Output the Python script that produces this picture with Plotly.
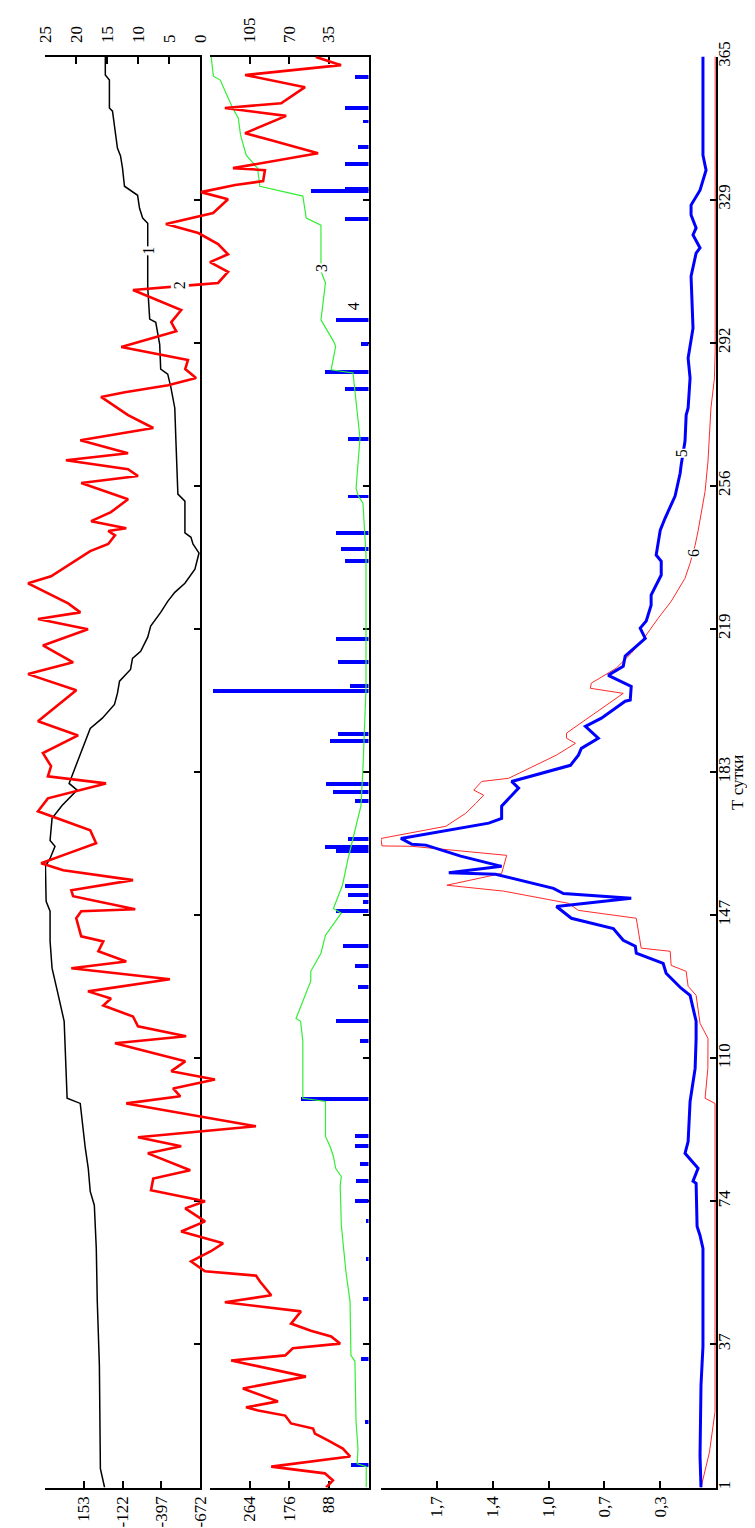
import plotly.graph_objects as go

# ---------------- data ----------------
# time axis (days)
time_tickvals = [1, 37.4, 73.8, 110.2, 146.6, 183, 219.4, 255.8, 292.2, 328.6, 365]
time_ticktext = ["1", "37", "74", "110", "147", "183", "219", "256", "292", "329", "365"]

# curve 1 (black) – panel 1, bottom axis
black_t = [1, 5.8, 32, 48.3, 61.8, 72.8, 76.3, 82.2, 87.3, 98.7, 100, 119.6, 127.5, 133.1, 140, 147.6,
           150.1, 159, 161, 164.1, 165.6, 171.2, 174.5, 178.4, 180.1, 184, 194.1, 196.7, 200.2, 203,
           206.1, 209.1, 211.9, 213.7, 217.3, 220.1, 223.6, 226.4, 228.7, 231, 234.6, 238.7, 241,
           242.7, 243.8, 251.9, 253.7, 267.4, 275.6, 280.9, 284.2, 285.5, 291.8, 297.4, 298.2, 306.3,
           322.6, 323.9, 326.4, 329.7, 332, 336.6, 339.7, 341.7, 345, 351.1, 351.9, 359, 360.3, 365]
black_v = [5, 35, 42, 57, 64, 78, 107, 121, 142, 178, 271, 292, 342, 378, 392, 392,
           420, 425, 392, 357, 392, 378, 307, 200, 257, 214, 107, 21, -65, -86,
           -101, -179, -193, -251, -301, -322, -393, -443, -493, -565, -636, -665, -622,
           -608, -565, -565, -515, -501, -493, -465, -443, -393, -386, -358, -315, -301,
           -301, -265, -243, -229, -136, -122, -108, -86, -72, -51, -29, -29, 0, 0]

# curve 2 (red, thick) – panel 2 bottom-axis units
red_t = [1, 2.8, 4.6, 6.3, 8.9, 10.9, 13, 14.7, 16, 17.3, 19.3, 20.6, 21.4, 22.9, 26.2, 29.2, 33.3,
         34.6, 36.4, 37.6, 39.4, 40.9, 42.7, 45.8, 48.1, 49.9, 53.4, 54.9, 56, 58.5, 61.1, 63.1,
         66.1, 68.7, 72, 73.8, 76.6, 79.6, 81.7, 86, 87.8, 90.1, 92.9, 98.7, 100.5, 102.5, 104.8,
         106.9, 109.4, 114, 115.8, 118.3, 120.8, 123.6, 125.4, 127.2, 130.3, 133.1, 134.8, 137.4,
         139.9, 141.2, 145.8, 147.6, 148.1, 151.4, 152.9, 155.5, 158, 159.8, 162.3, 164.9, 168.2,
         173, 176.3, 180.1, 181.9, 184.5, 187.8, 192.3, 195.9, 203.8, 207.9, 210.9, 215.2, 219.3,
         221.9, 223.6, 225.9, 231, 232.8, 236.4, 239.2, 241, 243.2, 244.3, 245, 246.8, 249.1,
         252.4, 256.5, 258.3, 260, 262.3, 264.1, 267.4, 270.5, 273.8, 278.4, 279.6, 281.4, 283.2,
         285.5, 287.8, 291.1, 295.1, 297.4, 300.5, 305.6, 306.9, 307.4, 310.2, 312.7, 314.7,
         317.3, 320.1, 322.4, 325.2, 328.7, 330.5, 332.3, 333.3, 336.1, 336.6, 340.4, 343.7,
         345.5, 349.9, 351.9, 353.1, 357.2, 360.3, 362.8, 364.9]
red_v = [94, 79, 97, 216, 41, 57, 90, 119, 123, 172, 185, 245, 272, 201, 279, 139, 305,
         185, 168, 63, 83, 128, 172, 150, 319, 216, 241, 250, 363, 394, 350, 323,
         416, 363, 407, 363, 483, 478, 396, 490, 416, 512, 250, 538, 418, 434, 341,
         438, 407, 563, 405, 512, 523, 589, 572, 623, 441, 660, 538, 600,
         589, 638, 649, 638, 518, 656, 660, 523, 678, 727, 667, 605, 618,
         734, 712, 583, 712, 705, 723, 645, 734, 649, 756, 656, 723, 623,
         734, 640, 667, 756, 705, 656, 618, 578, 563, 578, 538, 616, 572,
         534, 638, 512, 534, 672, 534, 640, 478, 534, 594, 541, 445, 383,
         407, 401, 549, 427, 438, 416, 523, 385, 334, 312, 352, 312,
         334, 378, 450, 345, 312, 372, 296, 234, 230, 301, 112, 216,
         274, 183, 319, 194, 141, 274, 61, 117]

# curve 3 (green) – panel 2 top axis
green_t = [1, 6.3, 7, 10.9, 17.8, 33.1, 34.6, 48.3, 56, 67.7, 77.8, 80.1, 82.2, 85.2, 87.8, 90.3,
           99.2, 100, 114.5, 119.6, 120.3, 129.8, 132.3, 136.9, 141.5, 147.1, 148.3, 154.2, 161,
           171.2, 174.5, 184, 204.3, 238.2, 251.4, 253.4, 255.2, 267.9, 284.5, 285.3, 291.3, 292.6,
           298, 307.4, 310.4, 322.1, 323.9, 329.5, 332, 336.6, 339.9, 345, 349.3, 351.9, 359, 360, 365]
green_v = [2, 2, 10, 9.3, 11, 12, 15.5, 16.3, 20, 24, 25, 24, 29, 31, 34, 38,
           38, 58, 58, 60, 64, 51, 51, 42, 38, 24, 31, 23, 18,
           9, 6.6, 4.9, 2.2, 2.2, 4.9, 9.3, 11, 7.5, 13.7, 33, 29, 31,
           42, 38, 42, 42, 55, 58, 96, 98, 108, 113, 115, 120, 131, 137, 139]

# 4 (blue bars) – panel 2 top axis
bar_t = [6.9, 17.8, 33.8, 49.1, 59.3, 68.9, 74, 79.1, 83.4, 88, 90.6, 100, 114.7, 119.8, 128.5,
         133.8, 138.9, 147.8, 150.1, 151.9, 154.2, 163.1, 164.1, 166.1, 175.8, 178.1, 180.1,
         191.1, 192.9, 203.8, 205.1, 211.2, 217, 236.9, 239.9, 244, 253.2, 267.9, 280.6, 284.9,
         292.1, 298, 323.9, 331, 331.5, 337.9, 342.2, 348.6, 352.1, 360]
bar_v = [15.5, 3, 6.6, 4.9, 2.2, 2.2, 12, 11, 7.5, 12, 12, 60, 7.5, 29, 9.3,
         12, 22.5, 29, 4.9, 18, 21, 29, 38, 18, 12, 31, 37.5,
         34, 27, 137, 16, 27, 29, 21, 24, 29, 18, 18, 21, 38,
         6.6, 29, 21, 51, 21, 21, 9.3, 4.9, 21, 12]

# curve 5 (blue, thick) – panel 3
c5_t = [1, 9.1, 27, 36.9, 61.8, 65.1, 67.4, 78.4, 78.9, 82.2, 86, 89, 99.2, 104.3, 107.6, 115.2,
        119.6, 126.2, 128, 131.8, 134.3, 136.9, 138.7, 140.2, 143.2, 145.8, 148.8, 150.9, 152.1,
        153.4, 157.0, 157.4, 159, 161.6, 164.4, 164.6, 166.1, 170, 171.2, 174.3, 177.1, 178.9,
        180.6, 184.7, 187.3, 189, 191.6, 194.6, 196.7, 201, 201.3, 204.8, 207.6, 209.9, 212.5,
        217, 219.6, 221.4, 225.4, 228, 233.1, 236.6, 238.2, 244.5, 247.6, 253.2, 259, 261,
        267.2, 273.8, 275.6, 283.2, 288.3, 295.9, 309.1, 315, 316.3, 319.6, 321.4, 324.7, 327.2,
        331, 336.1, 339.9, 365]
c5_v = [0.092, 0.098, 0.092, 0.080, 0.080, 0.098, 0.116, 0.122, 0.141, 0.110, 0.190, 0.171, 0.159,
        0.141, 0.128, 0.122, 0.122, 0.159, 0.214, 0.306, 0.324, 0.489, 0.495, 0.569, 0.630, 0.887,
        0.979, 0.520, 0.936, 0.997, 1.352, 1.639, 1.315, 1.566, 1.780, 1.865, 1.933, 1.394, 1.315,
        1.315, 1.254, 1.211, 1.254, 0.893, 0.844, 0.826, 0.722, 0.801, 0.703, 0.557, 0.526, 0.520,
        0.661, 0.569, 0.557, 0.434, 0.465, 0.428, 0.398, 0.398, 0.336, 0.336, 0.367, 0.342, 0.312,
        0.251, 0.220, 0.214, 0.190, 0.183, 0.171, 0.159, 0.171, 0.141, 0.153, 0.122, 0.098, 0.141,
        0.122, 0.153, 0.153, 0.098, 0.061, 0.080, 0.080]

# curve 6 (red, thin) – panel 3
c6_t = [1, 10, 20.3, 98.7, 100, 107.6, 115.2, 119.1, 126.2, 128.5, 132.3, 133.8, 137.4, 138.2, 145.8,
        147.8, 149.6, 152.7, 154.2, 157.2, 161.8, 163.6, 164.1, 164.2, 166.1, 169.2, 172.5, 175,
        177.1, 178.4, 180.6, 181.4, 187.3, 190.3, 191.6, 192.9, 203, 204.3, 205.6, 209.4, 213.2,
        217.5, 222.1, 226.4, 232.3, 236.1, 240.7, 244.3, 248.3, 254.4, 262.1, 275.6, 283, 290, 365]
c6_v = [0.092, 0.040, 0.006, 0.006, 0.067, 0.050, 0.049, 0.098, 0.122, 0.171, 0.183, 0.275, 0.281,
        0.459, 0.489, 0.844, 0.905, 1.303, 1.651, 1.315, 1.284, 1.761, 1.865, 2.049, 2.055, 1.657,
        1.535, 1.474, 1.425, 1.486, 1.437, 1.272, 0.979, 0.862, 0.917, 0.917, 0.569, 0.771, 0.765,
        0.612, 0.520, 0.434, 0.355, 0.275, 0.190, 0.159, 0.128, 0.110, 0.092, 0.067, 0.049, 0.031,
        0.010, 0.005, 0.005]

p1_bottom_ticks = [153, -122, -397, -672]
p1_top_ticks = [0, 5, 10, 15, 20, 25]
p2_bottom_ticks = [88, 176, 264]
p2_top_ticks = [35, 70, 105]
p3_step = 0.3425
p3_ticks = [p3_step * k for k in range(1, 6)]
p3_ticktext = ["0,3", "0,7", "1,0", "1,4", "1,7"]

# ---------------- figure ----------------
W, H = 755, 1528
FONT = dict(family="Liberation Serif, Times New Roman, serif", size=17, color="black")

fig = go.Figure()

fig.add_trace(go.Scatter(x=black_v, y=black_t, xaxis="x", yaxis="y", mode="lines",
                         line=dict(color="black", width=1.5), showlegend=False))
fig.add_trace(go.Scatter(x=[None], y=[None], xaxis="x2", yaxis="y", showlegend=False))
fig.add_trace(go.Scatter(x=[None], y=[None], xaxis="x", yaxis="y2", showlegend=False))
fig.add_trace(go.Scatter(x=[None], y=[None], xaxis="x3", yaxis="y3", showlegend=False))
fig.add_trace(go.Bar(x=bar_v, y=bar_t, orientation="h", xaxis="x4", yaxis="y", width=1.0,
                     marker=dict(color="#0000ff", line=dict(width=0)), showlegend=False))
fig.add_trace(go.Scatter(x=green_v, y=green_t, xaxis="x4", yaxis="y", mode="lines",
                         line=dict(color="#33ee33", width=1.2), showlegend=False))
fig.add_trace(go.Scatter(x=red_v, y=red_t, xaxis="x6", yaxis="y", mode="lines",
                         line=dict(color="#ff0000", width=2.6), showlegend=False))
fig.add_trace(go.Scatter(x=c6_v, y=c6_t, xaxis="x5", yaxis="y", mode="lines",
                         line=dict(color="#ff2a2a", width=1), showlegend=False))
fig.add_trace(go.Scatter(x=c5_v, y=c5_t, xaxis="x5", yaxis="y", mode="lines",
                         line=dict(color="#0000ff", width=3), showlegend=False))

axis_common = dict(showgrid=False, zeroline=False, showline=True, linecolor="black", linewidth=2,
                   ticks="inside", ticklen=7, tickwidth=1.5, tickcolor="black", tickangle=-90,
                   tickfont=FONT, automargin=False, fixedrange=True, ticklabelstandoff=0)

y_dom = [(H - 1479.5) / H, (H - 48.5) / H]

fig.update_layout(
    width=W, height=H, autosize=False,
    margin=dict(l=0, r=0, t=0, b=0),
    paper_bgcolor="white", plot_bgcolor="rgba(0,0,0,0)",
    showlegend=False, bargap=0,
    xaxis=dict(axis_common, domain=[37 / W, 192 / W], range=[428, -672], anchor="y", side="bottom",
               tickmode="array", tickvals=p1_bottom_ticks, ticktext=[str(v) for v in p1_bottom_ticks]),
    xaxis2=dict(axis_common, overlaying="x", range=[25, 0], anchor="y", side="top",
                tickmode="array", tickvals=p1_top_ticks, ticktext=[str(v) for v in p1_top_ticks],
                ticklabelstandoff=8),
    xaxis3=dict(axis_common, domain=[202 / W, 360.5 / W], range=[352, 0], anchor="y", side="bottom",
                tickmode="array", tickvals=p2_bottom_ticks, ticktext=[str(v) for v in p2_bottom_ticks]),
    xaxis4=dict(axis_common, overlaying="x3", range=[140, 0], anchor="y", side="top",
                tickmode="array", tickvals=p2_top_ticks, ticktext=[str(v) for v in p2_top_ticks],
                ticklabelstandoff=8),
    xaxis5=dict(axis_common, domain=[373 / W, 708 / W], range=[6 * p3_step, 0], anchor="y", side="bottom",
                tickmode="array", tickvals=p3_ticks, ticktext=p3_ticktext),
    xaxis6=dict(domain=[0, 360.5 / W], range=[800.6, 0], anchor="y", visible=False, fixedrange=True),
    yaxis=dict(axis_common, domain=y_dom, range=[1, 365], anchor="x5", side="right", ticklen=6,
               tickmode="array", tickvals=time_tickvals, ticktext=time_ticktext,
               ticklabelstandoff=-8),
    yaxis2=dict(axis_common, overlaying="y", range=[1, 365], anchor="x", side="right", ticklen=6,
                tickmode="array", tickvals=time_tickvals, showticklabels=False),
    yaxis3=dict(axis_common, overlaying="y", range=[1, 365], anchor="x3", side="right", ticklen=6,
                tickmode="array", tickvals=time_tickvals, showticklabels=False),
)

LBL = dict(family="Liberation Serif, Times New Roman, serif", size=16, color="black")
labels = [
    ("1", "x", 315.5, -301, True),
    ("2", "x6", 306.9, 418, True),
    ("3", "x4", 311.2, 42, True),
    ("4", "x4", 301.5, 13.7, False),
    ("5", "x5", 264.1, 0.214, True),
    ("6", "x5", 238.7, 0.141, True),
]
for txt, xr, t, v, bg in labels:
    fig.add_annotation(x=v, y=t, xref=xr, yref="y", text=txt, showarrow=False, textangle=-90,
                       font=LBL, bgcolor="white" if bg else None, borderpad=0)

fig.add_annotation(x=729 / W, y=(H - 775) / H, xref="paper", yref="paper", text="Т сутки",
                   showarrow=False, textangle=-90, font=FONT, xanchor="center", yanchor="middle")

fig.write_html("out.html")
